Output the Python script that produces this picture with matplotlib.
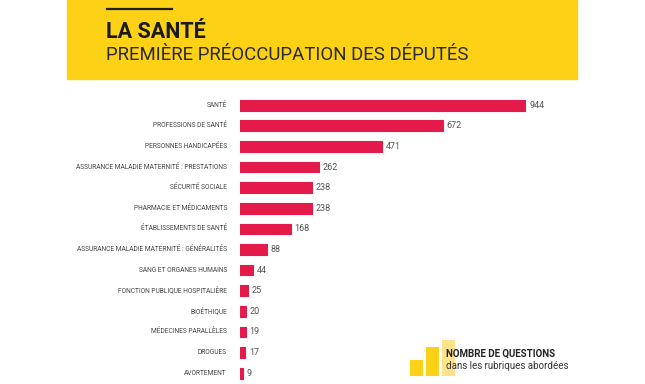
import matplotlib.pyplot as plt
from matplotlib.patches import Rectangle
from matplotlib.lines import Line2D

plt.rcParams['font.family'] = ['Roboto', 'DejaVu Sans']

# Données
rubriques = [
    "SANTÉ",
    "PROFESSIONS DE SANTÉ",
    "PERSONNES HANDICAPÉES",
    "ASSURANCE MALADIE MATERNITÉ : PRESTATIONS",
    "SÉCURITÉ SOCIALE",
    "PHARMACIE ET MÉDICAMENTS",
    "ÉTABLISSEMENTS DE SANTÉ",
    "ASSURANCE MALADIE MATERNITÉ : GÉNÉRALITÉS",
    "SANG ET ORGANES HUMAINS",
    "FONCTION PUBLIQUE HOSPITALIÈRE",
    "BIOÉTHIQUE",
    "MÉDECINES PARALLÈLES",
    "DROGUES",
    "AVORTEMENT",
]
questions = [944, 672, 471, 262, 238, 238, 168, 88, 44, 25, 20, 19, 17, 9]
legende_bars = [1, 2, 3]

W, H = 645, 384
rouge = '#e41b4a'
jaune = '#fcd116'

fig = plt.figure(figsize=(W / 100, H / 100), dpi=100)

# bandeau jaune
fig.patches.append(Rectangle((67 / W, 1 - 79 / H), 510 / W, 79 / H,
                             transform=fig.transFigure, color=jaune, zorder=0))
fig.lines.append(Line2D([107 / W, 172 / W], [1 - 9 / H, 1 - 9 / H],
                        transform=fig.transFigure, color='#222222', lw=1.6))
fig.text(106 / W, 1 - 37.5 / H, "LA SANTÉ", fontsize=15.5, fontweight='bold',
         color='#1a1a1a', ha='left', va='baseline')
fig.text(106 / W, 1 - 60 / H, "PREMIÈRE PRÉOCCUPATION DES DÉPUTÉS", fontsize=13.4,
         color='#2a2a2a', ha='left', va='baseline')

# barres
ax = fig.add_axes([240 / W, 1 - 383.5 / H, 302 / W, 288.6 / H])
y = list(range(len(rubriques)))
ax.barh(y, questions, height=0.52, color=rouge, edgecolor=rouge, lw=0.8,
        joinstyle='round')
ax.set_xlim(0, 1000)
ax.set_ylim(len(rubriques) - 0.5, -0.5)
for yi, v, nom in zip(y, questions, rubriques):
    ax.text(v + 13, yi, str(v), fontsize=6.5, color='#555555', va='center', ha='left')
    ax.text(-43, yi, nom, fontsize=4.75, color='#444444', va='center', ha='right')
ax.axis('off')

# légende
lax = fig.add_axes([410 / W, 1 - 376 / H, 45 / W, 36 / H])
lax.bar(legende_bars, [0.45, 0.8, 1.0], width=0.8,
        color=[jaune, jaune, '#fde38a'])
lax.set_xlim(0.6, 3.4)
lax.set_ylim(0, 1)
lax.axis('off')
fig.text(446 / W, 1 - 357 / H, "NOMBRE DE QUESTIONS", fontsize=7, fontweight='bold',
         color='#222222', ha='left', va='baseline')
fig.text(446 / W, 1 - 369 / H, "dans les rubriques abordées", fontsize=7,
         color='#333333', ha='left', va='baseline')

fig.savefig('out.png', dpi=100)
